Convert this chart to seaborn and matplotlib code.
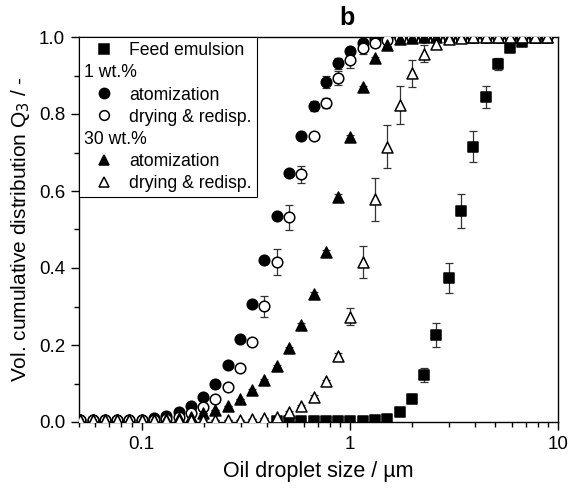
import numpy as np
import pandas as pd
import matplotlib
matplotlib.use("Agg")
import matplotlib.pyplot as plt
import matplotlib.ticker as mticker
from matplotlib.lines import Line2D
import seaborn as sns

# ---------------- data ----------------
size_um = [0.0507, 0.0581, 0.0665, 0.0762, 0.0873, 0.1000, 0.1146, 0.1312, 0.1503,
           0.1722, 0.1972, 0.2259, 0.2588, 0.2965, 0.3396, 0.3890, 0.4457, 0.5105,
           0.5848, 0.6699, 0.7674, 0.8790, 1.0069, 1.1535, 1.3213, 1.5136, 1.7338,
           1.9861, 2.2751, 2.6062, 2.9854, 3.4198, 3.9174, 4.4875, 5.1404, 5.8884,
           6.7453, 7.7268, 8.8512]

nan = np.nan
feed = [nan] * 16 + [0.002, 0.002, 0.002, 0.002, 0.002, 0.002, 0.002, 0.003, 0.004,
                     0.008, 0.026, 0.060, 0.122, 0.226, 0.374, 0.548, 0.715, 0.845,
                     0.929, 0.971, 0.988, 0.997, 1.000]
feed_err = [0] * 16 + [0, 0, 0, 0, 0, 0, 0, 0, 0,
                       0.002, 0.004, 0.006, 0.019, 0.030, 0.040, 0.043, 0.040, 0.029,
                       0.016, 0.006, 0.004, 0.003, 0]

atom1 = [0.005] * 5 + [0.006, 0.0095, 0.016, 0.027, 0.042, 0.066, 0.099, 0.148, 0.216,
                       0.306, 0.420, 0.536, 0.646, 0.743, 0.821, 0.884, 0.932, 0.964,
                       0.984, 0.995, 0.999] + [1.0] * 13
atom1_err = [0] * 5 + [0, 0, 0, 0, 0, 0, 0, 0, 0.003,
                       0.004, 0.005, 0.008, 0.005, 0.005, 0.012, 0.016, 0.014, 0.008,
                       0.004, 0.003, 0.002] + [0] * 13

dry1 = [0.005] * 5 + [0.005, 0.006, 0.009, 0.014, 0.023, 0.038, 0.060, 0.092, 0.139,
                      0.209, 0.301, 0.415, 0.532, 0.644, 0.743, 0.828, 0.893, 0.940,
                      0.971, 0.985, 0.993, 0.997] + [1.0] * 12
dry1_err = [0] * 5 + [0, 0, 0, 0, 0, 0, 0, 0, 0.004,
                      0.005, 0.027, 0.034, 0.032, 0.022, 0.005, 0.013, 0.018, 0.020,
                      0.014, 0.010, 0.005, 0.003] + [0] * 12

atom30 = [0.005] * 5 + [0.005, 0.006, 0.007, 0.010, 0.014, 0.023, 0.031, 0.042, 0.059,
                        0.082, 0.109, 0.145, 0.191, 0.252, 0.332, 0.442, 0.585, 0.741,
                        0.869, 0.945, 0.979, 0.994, 0.998] + [1.0] * 11
atom30_err = [0] * 5 + [0, 0, 0, 0, 0, 0, 0, 0, 0,
                        0.003, 0.003, 0.004, 0.004, 0.005, 0.006, 0.006, 0.006, 0.005,
                        0.005, 0.004, 0.003, 0.002, 0] + [0] * 11

dry30 = [0.005] * 5 + [0.005, 0.005, 0.005, 0.005, 0.005, 0.005, 0.005, 0.006, 0.006,
                       0.007, 0.0095, 0.014, 0.025, 0.042, 0.066, 0.106, 0.172, 0.274,
                       0.416, 0.578, 0.715, 0.823, 0.906, 0.956, 0.981, 0.994, 0.998] + [1.0] * 7
dry30_err = [0] * 5 + [0, 0, 0, 0, 0, 0, 0, 0, 0,
                       0, 0, 0, 0.003, 0.003, 0.004, 0.004, 0.006, 0.022,
                       0.041, 0.055, 0.056, 0.049, 0.035, 0.022, 0.010, 0.004, 0.002] + [0] * 7

x_ticks = [0.1, 1, 10]
x_ticklabels = ["0.1", "1", "10"]
y_ticks = [0.0, 0.2, 0.4, 0.6, 0.8, 1.0]
y_ticklabels = ["0.0", "0.2", "0.4", "0.6", "0.8", "1.0"]

# ---------------- style ----------------
sns.set_style("ticks")
plt.rcParams['font.family'] = ['Liberation Sans', 'DejaVu Sans']
plt.rcParams['axes.linewidth'] = 1.0
plt.rcParams['axes.edgecolor'] = 'black'
plt.rcParams['text.color'] = 'black'
plt.rcParams['axes.labelcolor'] = 'black'
plt.rcParams['xtick.color'] = 'black'
plt.rcParams['ytick.color'] = 'black'

fig = plt.figure(figsize=(5.7, 4.88), dpi=100)
ax = fig.add_axes([79 / 570, 66 / 488, 479 / 570, 385 / 488])

series = [
    (feed, feed_err, 's', 'black', 48),
    (atom1, atom1_err, 'o', 'black', 58),
    (dry1, dry1_err, 'o', 'white', 58),
    (atom30, atom30_err, '^', 'black', 62),
    (dry30, dry30_err, '^', 'white', 62),
]

for vals, errs, mk, fc, s in series:
    df = pd.DataFrame({"size": size_um, "Q3": vals, "err": errs}).dropna()
    ax.errorbar(df["size"], df["Q3"], yerr=df["err"], fmt='none', ecolor='#333333',
                elinewidth=0.9, capsize=3, capthick=0.9, zorder=2)
    sns.scatterplot(data=df, x="size", y="Q3", marker=mk, s=s, color=fc,
                    edgecolor='black', linewidth=1.1, ax=ax, zorder=3, legend=False)

ax.set_xscale('log')
ax.set_xlim(0.05, 10)
ax.set_ylim(0.0, 1.0)
ax.set_xticks(x_ticks)
ax.set_xticklabels(x_ticklabels)
ax.xaxis.set_minor_locator(mticker.LogLocator(base=10, subs=np.arange(2, 10)))
ax.xaxis.set_minor_formatter(mticker.NullFormatter())
ax.set_yticks(y_ticks)
ax.set_yticklabels(y_ticklabels)
ax.yaxis.set_minor_locator(mticker.MultipleLocator(0.1))
ax.tick_params(which='major', direction='out', length=6, width=1, labelsize=13.5,
               top=False, right=False, pad=4, colors='black')
ax.tick_params(which='minor', direction='out', length=3.5, width=1,
               top=False, right=False, colors='black')
for sp in ax.spines.values():
    sp.set_visible(True)
    sp.set_color('black')

ax.set_xlabel("Oil droplet size / µm", fontsize=15.5, labelpad=6, color='black')
ax.set_ylabel("Vol. cumulative distribution Q$_3$ / -", fontsize=15, labelpad=5,
              color='black')
fig.text(347 / 570, 1 - 18 / 488, "b", ha='center', va='center',
         fontsize=18, fontweight='bold', color='black')

# ---------------- legend ----------------
def mk_handle(marker, fc, ms):
    return Line2D([], [], linestyle='none', marker=marker, markersize=ms,
                  markerfacecolor=fc, markeredgecolor='black', markeredgewidth=1.1)

blank = Line2D([], [], linestyle='none', marker=None)
handles = [mk_handle('s', 'black', 6.8), blank,
           mk_handle('o', 'black', 7.4), mk_handle('o', 'white', 7.0), blank,
           mk_handle('^', 'black', 7.6), mk_handle('^', 'white', 7.2)]
labels = ["Feed emulsion", "1 wt.%", "atomization", "drying & redisp.",
          "30 wt.%", "atomization", "drying & redisp."]
leg_fs = 12.7
hl, htp = 2.25, 0.28
leg = ax.legend(handles, labels, loc='upper left', bbox_to_anchor=(0, 1),
                borderaxespad=0, frameon=True, fancybox=False, fontsize=leg_fs,
                handlelength=hl, handletextpad=htp, borderpad=0.3,
                labelspacing=0.29, framealpha=1)
leg.get_frame().set_edgecolor('black')
leg.get_frame().set_linewidth(0.8)
for t in leg.get_texts():
    t.set_color('black')
shift = (hl + htp) * leg_fs * 100 / 72
for i in (1, 4):
    leg.get_texts()[i].set_x(-shift)

fig.savefig("out.png", dpi=100)
